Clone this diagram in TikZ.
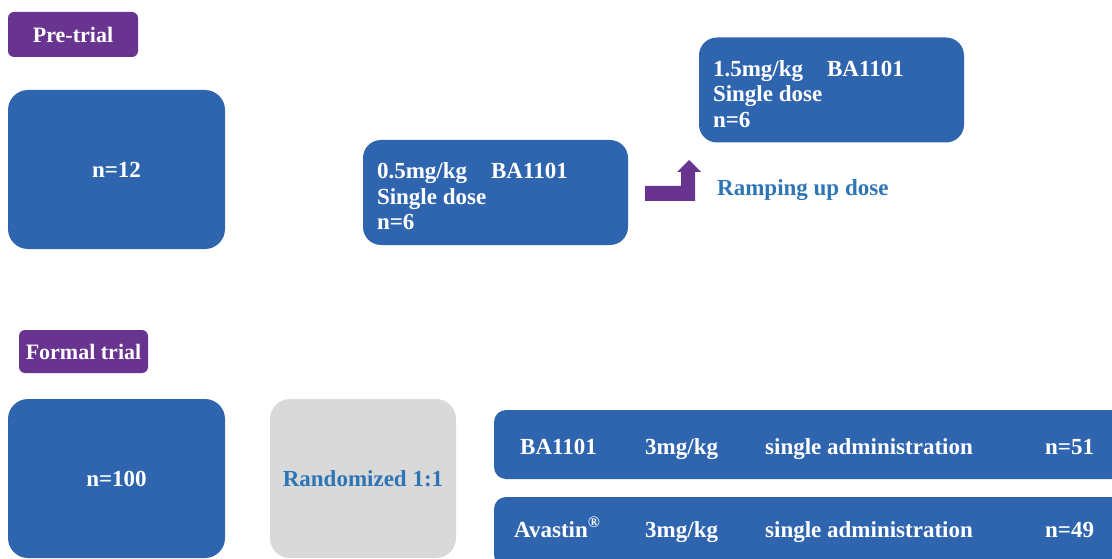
\documentclass[tikz,border=0pt]{standalone}
\usepackage{fontspec}
\setmainfont{Liberation Serif}
\usepackage{xcolor}
\usetikzlibrary{positioning}

\definecolor{boxblue}{HTML}{2F65AF}
\definecolor{tagpurple}{HTML}{69348F}
\definecolor{randgray}{HTML}{D9D9D9}
\definecolor{textblue}{HTML}{2E75B6}

\begin{document}
\begin{tikzpicture}[x=1pt,y=-1pt,font=\fontsize{23}{25.5}\selectfont\bfseries,
  tag/.style={fill=tagpurple,text=white,rounded corners=6pt,inner sep=0pt,
    font=\fontsize{22}{25}\selectfont\bfseries},
  arm/.style={fill=boxblue,text=white,rounded corners=20pt,inner sep=0pt,
    minimum width=217pt,minimum height=159pt},
  dose/.style={fill=boxblue,rounded corners=18pt,minimum width=265pt,minimum height=105pt},
  dosetext/.style={text=white,inner sep=0pt,align=left},
  bar/.style={fill=boxblue,rounded corners=12pt,minimum width=636pt,minimum height=69pt},
  cell/.style={text=white,anchor=base west,inner sep=0pt}]
\clip (0,0) rectangle (1112,559);

% pre-trial
\node[tag,minimum width=130pt,minimum height=45pt] (pre) at (73,34.5) {Pre-trial};
\node[arm] (n12) at (116.5,169.5) {n=12};
\node[dose] (low) at (495.5,192.5) {};
\node[dosetext,below right=23pt and 14pt of low.north west] (lowtext)
  {0.5mg/kg\hspace{24pt}BA1101\\Single dose\\n=6};
\node[dose] (high) at (831.5,90) {};
\node[dosetext,below right=23pt and 14pt of high.north west] (hightext)
  {1.5mg/kg\hspace{24pt}BA1101\\Single dose\\n=6};
\fill[tagpurple] (645,186) -- (681,186) -- (681,172) -- (677,172) -- (689,160)
  -- (701,172) -- (695,172) -- (695,201) -- (645,201) -- cycle;
\node[text=textblue,anchor=base west,inner sep=0pt] (ramp) at (717,196) {Ramping up dose};

% formal trial
\node[tag,minimum width=129pt,minimum height=43pt] (formal) at (83.5,351.5) {Formal trial};
\node[arm] (n100) at (116.5,478.5) {n=100};
\node[arm,fill=randgray,text=textblue,minimum width=186pt] (rand) at (363,478.5) {Randomized 1:1};
\node[bar] (armA) at (812,444.5) {};
\node[bar,minimum height=70pt] (armB) at (812,532) {};

\node[cell] (drugA) at (520,454) {BA1101};
\node[cell] (drugB) at (514,537) {Avastin\textsuperscript{\textregistered}};
\foreach \row/\y/\n in {A/454/51,B/537/49}{
  \node[cell] (dose\row) at (645,\y) {3mg/kg};
  \node[cell] (admin\row) at (765,\y) {single administration};
  \node[cell] (size\row) at (1045,\y) {n=\n};
}
\end{tikzpicture}
\end{document}
